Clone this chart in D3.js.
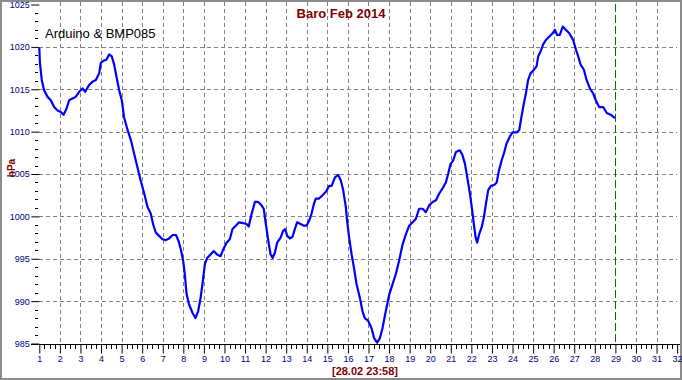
<!DOCTYPE html>
<html><head><meta charset="utf-8">
<script src="https://cdn.jsdelivr.net/npm/d3@7"></script>
<style>
html,body{margin:0;padding:0;background:#fff;}
svg{display:block;}
.lbl{font-family:'Liberation Sans Narrow','Arial Narrow','Liberation Sans',sans-serif;font-size:9px;fill:#000080;}
</style></head>
<body>
<svg id="c" width="682" height="380"></svg>
<script>
const title = "Baro Feb 2014";
const subtitle = "Arduino & BMP085";
const yLabel = "hPa";
const stamp = "[28.02 23:58]";
const markerDay = 29;
const yTicks = [985, 990, 995, 1000, 1005, 1010, 1015, 1020, 1025];
const xTicks = d3.range(1, 33);

const days = [1.00,1.03,1.12,1.23,1.40,1.56,1.72,1.89,2.05,2.18,2.32,2.45,2.61,2.77,2.94,3.10,3.23,3.42,3.59,3.75,3.91,3.99,4.15,4.27,4.39,4.52,4.64,4.75,4.88,5.01,5.12,5.29,5.45,5.61,5.77,5.93,6.10,6.26,6.42,6.53,6.66,6.82,6.99,7.15,7.31,7.48,7.64,7.77,7.88,7.99,8.07,8.16,8.28,8.45,8.59,8.72,8.84,8.93,9.05,9.16,9.32,9.48,9.64,9.81,9.94,10.10,10.26,10.39,10.55,10.71,10.91,11.07,11.18,11.32,11.48,11.64,11.80,11.91,12.01,12.12,12.24,12.34,12.45,12.56,12.73,12.85,12.95,13.05,13.18,13.31,13.42,13.53,13.70,13.86,13.99,14.12,14.23,14.35,14.44,14.60,14.77,14.93,15.09,15.21,15.37,15.53,15.66,15.77,15.90,15.96,16.06,16.18,16.29,16.42,16.58,16.71,16.82,16.98,17.15,17.28,17.42,17.55,17.68,17.84,18.01,18.17,18.33,18.49,18.66,18.82,18.98,19.14,19.30,19.46,19.63,19.79,19.95,20.12,20.28,20.44,20.60,20.76,20.87,20.99,21.12,21.25,21.44,21.57,21.69,21.80,21.93,22.04,22.12,22.21,22.28,22.38,22.50,22.61,22.71,22.82,22.95,23.11,23.23,23.34,23.47,23.58,23.71,23.87,24.00,24.20,24.33,24.41,24.52,24.65,24.76,24.88,25.04,25.17,25.25,25.37,25.49,25.62,25.78,25.95,26.06,26.17,26.30,26.44,26.60,26.76,26.95,27.08,27.19,27.31,27.47,27.60,27.76,27.92,28.05,28.21,28.41,28.58,28.77,28.98];
const hPa = [1019.9,1018.1,1016.1,1014.9,1014.1,1013.7,1012.9,1012.5,1012.3,1012.0,1012.7,1013.7,1013.9,1014.1,1014.7,1015.1,1014.7,1015.5,1015.9,1016.1,1016.9,1018.1,1018.4,1018.5,1019.1,1018.9,1017.9,1016.5,1014.9,1013.7,1011.7,1010.2,1009.0,1007.4,1005.8,1004.2,1002.7,1001.1,1000.3,999.1,998.1,997.7,997.3,997.2,997.4,997.8,997.8,997.1,996.1,994.8,993.2,990.8,989.6,988.6,988.0,988.8,990.4,992.0,994.4,995.1,995.5,995.9,995.5,995.3,996.1,996.9,997.3,998.5,998.9,999.3,999.2,999.1,998.8,1000.3,1001.7,1001.7,1001.3,1000.9,999.1,997.3,995.5,995.1,995.7,996.9,997.5,998.3,998.5,997.7,997.4,997.6,998.5,999.3,999.1,998.9,998.9,999.5,1000.3,1001.5,1002.1,1002.1,1002.5,1002.9,1003.6,1003.6,1004.6,1004.9,1004.2,1003.1,1001.1,999.5,997.5,995.5,994.0,992.0,990.4,988.8,988.0,987.7,986.8,985.6,985.1,985.6,986.8,988.8,990.8,992.0,993.2,994.8,996.7,997.9,998.9,999.3,999.7,1000.9,1000.9,1000.5,1001.3,1001.7,1001.9,1002.7,1003.3,1004.0,1005.0,1006.2,1006.6,1007.6,1007.8,1007.2,1006.2,1004.6,1002.7,1000.7,999.1,997.5,996.9,997.9,998.7,999.9,1001.5,1003.1,1003.6,1003.7,1004.0,1005.4,1006.6,1007.4,1008.6,1009.4,1009.9,1009.9,1010.2,1011.4,1012.9,1014.5,1016.1,1016.9,1017.3,1017.7,1018.9,1019.5,1020.3,1020.8,1021.2,1021.6,1022.0,1021.4,1021.4,1022.4,1022.0,1021.6,1020.8,1019.7,1018.9,1017.9,1017.3,1016.1,1015.1,1014.5,1013.7,1012.9,1012.9,1012.2,1012.0,1011.6];

const svg = d3.select("#c");
const x = d3.scaleLinear().domain([1, 32]).range([39.3, 677.1]);
const y = d3.scaleLinear().domain([985, 1025]).range([343.5, 4.5]);
const axisY = y(985);

// frame
svg.append("rect").attr("x", 1).attr("y", 1).attr("width", 680).attr("height", 378)
  .attr("fill", "#fff").attr("stroke", "#8c8c8c").attr("stroke-width", 2);

// grid
const grid = svg.append("g").attr("stroke", "#808080").attr("stroke-width", 1).attr("stroke-dasharray", "4,3").attr("shape-rendering", "crispEdges");
grid.selectAll("line.h").data(yTicks.filter(d => d > 985 && d < 1025)).enter().append("line")
  .attr("x1", x(1)).attr("x2", x(32)).attr("y1", d => Math.round(y(d)) + 0.5).attr("y2", d => Math.round(y(d)) + 0.5);
grid.selectAll("line.v").data(xTicks.filter(d => d > 1 && d < 32 && d !== markerDay)).enter().append("line")
  .attr("x1", d => Math.round(x(d)) + 0.5).attr("x2", d => Math.round(x(d)) + 0.5).attr("y1", 2).attr("y2", axisY);

// marker line
svg.append("line").attr("x1", Math.round(x(markerDay)) + 0.5).attr("x2", Math.round(x(markerDay)) + 0.5)
  .attr("y1", 4).attr("y2", axisY).attr("stroke", "#007000").attr("stroke-width", 1).attr("stroke-dasharray", "8,3");

// y axis
const gy = svg.append("g").attr("transform", `translate(${x(1)},0)`)
  .call(d3.axisLeft(y).tickValues(yTicks).tickSize(8).tickPadding(1.5).tickFormat(d3.format("d")));
gy.select(".domain").remove();
gy.selectAll("line").attr("stroke", "#000");
gy.selectAll("text").attr("class", "lbl").attr("font-family", null).attr("font-size", null).attr("fill", null);
// minor y ticks
svg.append("g").selectAll("line").data(d3.range(986, 1025).filter(d => d % 5 !== 0)).enter().append("line")
  .attr("x1", x(1) - 4.5).attr("x2", x(1) - 1.5).attr("y1", d => Math.round(y(d)) + 0.5).attr("y2", d => Math.round(y(d)) + 0.5)
  .attr("stroke", "#000").attr("shape-rendering", "crispEdges");

// x axis
svg.append("line").attr("x1", x(1) - 8).attr("x2", 680).attr("y1", Math.round(axisY) + 0.5).attr("y2", Math.round(axisY) + 0.5)
  .attr("stroke", "#000").attr("shape-rendering", "crispEdges");
const gx = svg.append("g").attr("transform", `translate(0,${Math.round(axisY) + 0.5})`)
  .call(d3.axisBottom(x).tickValues(xTicks).tickSize(9).tickPadding(2).tickFormat(d3.format("d")));
gx.select(".domain").remove();
gx.selectAll("line").attr("stroke", "#000");
gx.selectAll("text").attr("class", "lbl").attr("font-family", null).attr("font-size", null).attr("fill", null);
const minorX = d3.range(1, 32, 0.25).filter(d => d % 1 !== 0);
svg.append("g").selectAll("line").data(minorX).enter().append("line")
  .attr("x1", d => Math.round(x(d)) + 0.5).attr("x2", d => Math.round(x(d)) + 0.5)
  .attr("y1", Math.round(axisY)).attr("y2", Math.round(axisY) + 5)
  .attr("stroke", "#000").attr("shape-rendering", "crispEdges");

// data line
const pts = days.map((d, i) => [d, hPa[i]]);
svg.append("path").datum(pts)
  .attr("d", d3.line().x(d => x(d[0])).y(d => y(d[1])))
  .attr("fill", "none").attr("stroke", "#0000ff").attr("stroke-width", 2.2).attr("stroke-linejoin", "round");

// texts
svg.append("text").attr("x", 341).attr("y", 18).attr("text-anchor", "middle")
  .attr("font-family", "'Liberation Sans', Arial, sans-serif").attr("font-size", 13).attr("font-weight", "bold")
  .attr("fill", "#800000").text(title);
svg.append("text").attr("x", 45).attr("y", 38)
  .attr("font-family", "'Liberation Sans', Arial, sans-serif").attr("font-size", 13)
  .attr("fill", "#000").text(subtitle);
svg.append("text").attr("transform", "translate(15,168) rotate(-90)").attr("text-anchor", "middle")
  .attr("font-family", "'Liberation Sans', Arial, sans-serif").attr("font-size", 10).attr("font-weight", "bold")
  .attr("fill", "#800000").text(yLabel);
svg.append("text").attr("x", 365).attr("y", 374.5).attr("text-anchor", "middle")
  .attr("font-family", "'Liberation Sans', Arial, sans-serif").attr("font-size", 11).attr("font-weight", "bold")
  .attr("fill", "#800000").text(stamp);
</script>
</body></html>
